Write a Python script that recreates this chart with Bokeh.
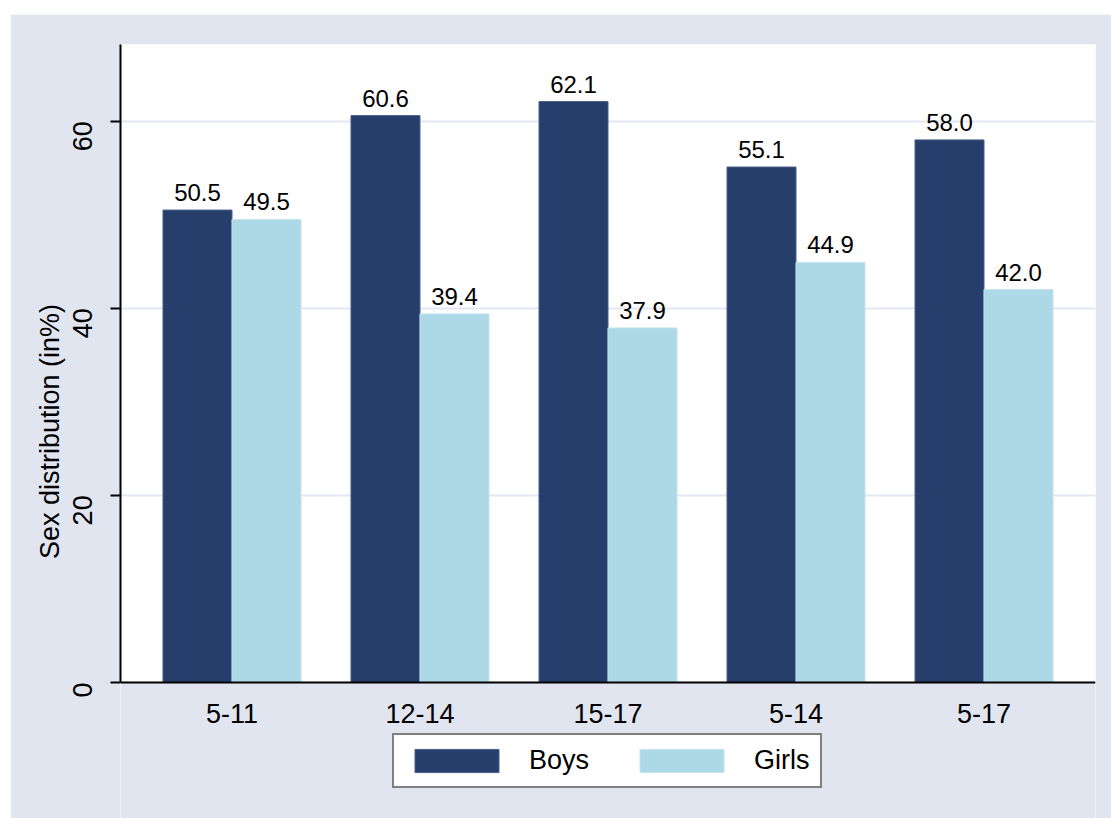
import math
from bokeh.plotting import figure
from bokeh.models import ColumnDataSource, FactorRange, Legend, LegendItem, FixedTicker, BoxAnnotation
from bokeh.transform import dodge
from bokeh.embed import file_html
from bokeh.resources import INLINE
from bokeh.core.properties import value

categories = ["5-11", "12-14", "15-17", "5-14", "5-17"]
boys = [50.5, 60.6, 62.1, 55.1, 58.0]
girls = [49.5, 39.4, 37.9, 44.9, 42.0]
y_ticks = [0, 20, 40, 60]
series_names = ["Boys", "Girls"]

BOYS_COLOR = "#263e6b"
GIRLS_COLOR = "#add8e5"
BG = "#e1e5f0"
FONT = "Liberation Sans"

Y_TOP = 68.2
Y_BOTTOM = -14.55  # room under the axis for tick labels and legend

src = ColumnDataSource(dict(
    cat=categories,
    boys=boys,
    girls=girls,
    boys_lbl=[f"{v:.1f}" for v in boys],
    girls_lbl=[f"{v:.1f}" for v in girls],
))

p = figure(
    x_range=FactorRange(factors=categories, range_padding=0.0372),
    y_range=(Y_BOTTOM, Y_TOP),
    frame_width=975, frame_height=774,
    output_backend="svg", toolbar_location=None,
    min_border_left=110, min_border_right=16,
    min_border_top=30, min_border_bottom=0,
    styles={"margin-top": "14px", "margin-left": "10px"},
)
p.background_fill_color = "white"
p.border_fill_color = BG
p.outline_line_color = None

# grey area below the zero line (outside the Stata plot region)
p.add_layout(BoxAnnotation(top=0, fill_color=BG, fill_alpha=1.0,
                           line_color=BG, line_width=3, level="underlay"))

bw = 0.367
r_boys = p.vbar(x=dodge("cat", -bw / 2, range=p.x_range), top="boys", width=bw,
                source=src, fill_color=BOYS_COLOR, line_color="#4a5f88", line_width=1)
r_girls = p.vbar(x=dodge("cat", bw / 2, range=p.x_range), top="girls", width=bw,
                 source=src, fill_color=GIRLS_COLOR, line_color="#c4e4ee", line_width=1)

p.text(x=dodge("cat", -bw / 2, range=p.x_range), y="boys", text="boys_lbl", source=src,
       text_align="center", text_baseline="bottom", y_offset=-9,
       text_font=value(FONT), text_font_size="24px", text_color="black")
p.text(x=dodge("cat", bw / 2, range=p.x_range), y="girls", text="girls_lbl", source=src,
       text_align="center", text_baseline="bottom", y_offset=-9,
       text_font=value(FONT), text_font_size="24px", text_color="black")

# grid
p.xgrid.grid_line_color = None
p.ygrid.ticker = FixedTicker(ticks=y_ticks[1:])
p.ygrid.grid_line_color = "#e3e7f1"
p.ygrid.grid_line_width = 2

# y axis
p.yaxis.ticker = FixedTicker(ticks=y_ticks)
p.yaxis.bounds = (0, Y_TOP)
p.yaxis.axis_label = "Sex distribution (in%)"
p.yaxis.axis_label_text_font = FONT
p.yaxis.axis_label_text_font_style = "normal"
p.yaxis.axis_label_text_font_size = "27px"
p.yaxis.axis_label_text_color = "black"
p.yaxis.axis_label_standoff = -4
p.yaxis.major_label_orientation = math.pi / 2
p.yaxis.major_label_text_font = FONT
p.yaxis.major_label_text_font_size = "27px"
p.yaxis.major_label_text_color = "black"
p.yaxis.major_label_standoff = 28
p.yaxis.major_tick_out = 10
p.yaxis.major_tick_in = 0
p.yaxis.minor_tick_line_color = None
p.yaxis.axis_line_width = 2
p.yaxis.major_tick_line_width = 2
p.yaxis.axis_line_color = "black"

# x axis, drawn at y = 0
p.xaxis.fixed_location = 0
p.xaxis.major_tick_line_color = None
p.xaxis.minor_tick_line_color = None
p.xaxis.major_label_text_font = FONT
p.xaxis.major_label_text_font_size = "27px"
p.xaxis.major_label_text_color = "black"
p.xaxis.major_label_standoff = 16
p.xaxis.axis_line_width = 2
p.xaxis.axis_line_color = "black"

legend = Legend(
    items=[LegendItem(label=series_names[0], renderers=[r_boys]),
           LegendItem(label=series_names[1], renderers=[r_girls])],
    orientation="horizontal", location=(272, 30),
    glyph_width=105, glyph_height=29, label_standoff=20, spacing=40,
    padding=10, margin=0,
    label_text_font=FONT, label_text_font_size="27px", label_text_color="black",
    border_line_color="black", border_line_width=2,
    background_fill_color="white", background_fill_alpha=1.0,
)
p.add_layout(legend)

open("out.html", "w").write(file_html(p, INLINE))
